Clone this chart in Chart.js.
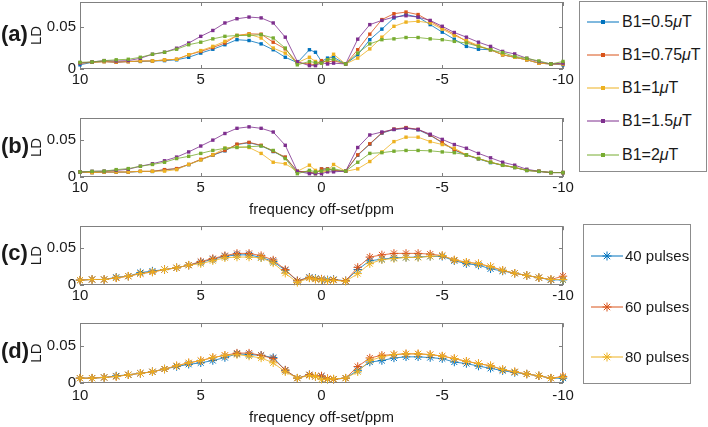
<!DOCTYPE html>
<html>
<head>
<meta charset="utf-8">
<script src="https://cdn.jsdelivr.net/npm/chart.js@4.4.1/dist/chart.umd.min.js"></script>
<style>
  body { margin: 0; width: 708px; height: 427px; position: relative; overflow: hidden; background: #fff;
         font-family: 'Liberation Sans', Arial, sans-serif; color: #1a1a1a; }
  canvas { position: absolute; left: 0; }
  .tag { position: absolute; left: 1px; font-size: 22px; font-weight: bold; line-height: 22px; }
  .legend { position: absolute; background: #fff; border: 1px solid #8c8c8c; box-sizing: border-box; }
  .row { position: absolute; left: 0; height: 18px; line-height: 18px; white-space: nowrap; }
  .row svg { position: absolute; top: 4px; }
  .row span { position: absolute; top: 0; }
</style>
</head>
<body>
<script>
// frequency offsets (ppm)
const freq = [10, 9.5, 9, 8.5, 8, 7.5, 7, 6.5, 6, 5.5, 5, 4.5, 4, 3.5, 3, 2.5, 2, 1.5, 1,
              0.5, 0.25, 0, -0.25, -0.5,
              -1, -1.5, -2, -2.5, -3, -3.5, -4, -4.5, -5, -5.5, -6, -6.5, -7, -7.5, -8, -8.5, -9, -9.5, -10];
const xTicks = [10, 5, 0, -5, -10];
const yTicks = [0, 0.05];
const b1Names = ['B1=0.5μT', 'B1=0.75μT', 'B1=1μT', 'B1=1.5μT', 'B1=2μT'];
const pulseNames = ['40 pulses', '60 pulses', '80 pulses'];
const colors = ['#0072BD', '#D95319', '#EDB120', '#7E2F8E', '#77AC30'];

// panel (a)
const a05  = [0.005, 0.008, 0.009, 0.008, 0.009, 0.009, 0.0095, 0.010, 0.011, 0.014, 0.019, 0.0236, 0.029, 0.035, 0.034, 0.030, 0.023, 0.014, 0.0076,
              0.023, 0.020, 0.009, 0.013, 0.014,
              0.006, 0.017, 0.035, 0.0476, 0.061, 0.065, 0.062, 0.053, 0.044, 0.0356, 0.027, 0.0236, 0.023, 0.017, 0.014, 0.011, 0.007, 0.006, 0.005];
const a075 = [0.007, 0.008, 0.0088, 0.008, 0.0088, 0.0096, 0.0096, 0.0108, 0.0116, 0.017, 0.021, 0.0256, 0.031, 0.040, 0.042, 0.0416, 0.032, 0.024, 0.0076,
              0.006, 0.005, 0.010, 0.008, 0.010,
              0.006, 0.023, 0.0416, 0.059, 0.066, 0.068, 0.065, 0.057, 0.049, 0.0416, 0.033, 0.027, 0.023, 0.017, 0.014, 0.011, 0.007, 0.006, 0.006];
const a1   = [0.007, 0.008, 0.0088, 0.0085, 0.0088, 0.0096, 0.0096, 0.0108, 0.0116, 0.017, 0.022, 0.027, 0.033, 0.040, 0.0416, 0.037, 0.025, 0.019, 0.0076,
              0.014, 0.009, 0.007, 0.011, 0.0176,
              0.006, 0.013, 0.024, 0.038, 0.051, 0.056, 0.057, 0.055, 0.0476, 0.040, 0.034, 0.028, 0.023, 0.017, 0.014, 0.011, 0.007, 0.006, 0.006];
const a15  = [0.007, 0.0084, 0.010, 0.0095, 0.010, 0.0128, 0.0176, 0.020, 0.0248, 0.031, 0.039, 0.046, 0.055, 0.060, 0.062, 0.061, 0.055, 0.038, 0.0088,
              0.004, 0.004, 0.0076, 0.006, 0.007,
              0.006, 0.0356, 0.053, 0.058, 0.062, 0.0636, 0.062, 0.058, 0.051, 0.0436, 0.038, 0.032, 0.027, 0.021, 0.018, 0.0128, 0.0088, 0.006, 0.007];
const a2   = [0.008, 0.0084, 0.010, 0.011, 0.0116, 0.014, 0.0176, 0.020, 0.0236, 0.029, 0.032, 0.036, 0.039, 0.040, 0.040, 0.041, 0.037, 0.025, 0.005,
              0.009, 0.0076, 0.007, 0.011, 0.0116,
              0.006, 0.019, 0.030, 0.035, 0.036, 0.0376, 0.0376, 0.036, 0.035, 0.033, 0.031, 0.027, 0.023, 0.0196, 0.015, 0.0128, 0.0096, 0.006, 0.009];

// panel (b)
const b05  = [0.0066, 0.006, 0.0066, 0.0066, 0.0066, 0.0075, 0.0075, 0.0098, 0.0112, 0.0168, 0.0235, 0.0295, 0.0355, 0.044, 0.0465, 0.0425, 0.0345, 0.0265, 0.0075,
              0.0068, 0.0045, 0.0108, 0.0108, 0.0088,
              0.0078, 0.0295, 0.0445, 0.0595, 0.0645, 0.0665, 0.064, 0.0565, 0.0465, 0.0365, 0.0295, 0.0245, 0.0195, 0.0158, 0.0128, 0.0088, 0.0075, 0.006, 0.006];
const b075 = [0.0068, 0.006, 0.0068, 0.0068, 0.0068, 0.0077, 0.0077, 0.010, 0.0114, 0.017, 0.024, 0.030, 0.036, 0.0445, 0.047, 0.043, 0.035, 0.027, 0.0077,
              0.007, 0.0045, 0.011, 0.011, 0.009,
              0.008, 0.030, 0.045, 0.060, 0.065, 0.067, 0.0645, 0.057, 0.047, 0.037, 0.030, 0.025, 0.020, 0.016, 0.013, 0.009, 0.0077, 0.006, 0.006];
const b1   = [0.0068, 0.006, 0.0068, 0.0068, 0.0068, 0.0077, 0.0077, 0.008, 0.010, 0.017, 0.023, 0.030, 0.039, 0.041, 0.040, 0.032, 0.020, 0.018, 0.0077,
              0.016, 0.009, 0.0068, 0.008, 0.017,
              0.0077, 0.011, 0.021, 0.034, 0.048, 0.054, 0.054, 0.048, 0.044, 0.039, 0.030, 0.025, 0.020, 0.016, 0.013, 0.009, 0.0077, 0.006, 0.006];
const b15  = [0.0068, 0.0077, 0.008, 0.009, 0.0105, 0.0146, 0.018, 0.022, 0.027, 0.034, 0.042, 0.050, 0.059, 0.066, 0.068, 0.066, 0.061, 0.043, 0.0077,
              0.0045, 0.005, 0.0045, 0.007, 0.007,
              0.008, 0.040, 0.057, 0.061, 0.0645, 0.066, 0.0645, 0.058, 0.051, 0.044, 0.039, 0.032, 0.026, 0.020, 0.016, 0.0105, 0.0077, 0.006, 0.006];
const b2   = [0.0068, 0.0077, 0.008, 0.010, 0.0114, 0.0146, 0.017, 0.020, 0.025, 0.028, 0.032, 0.036, 0.039, 0.040, 0.041, 0.042, 0.036, 0.025, 0.0045,
              0.009, 0.007, 0.008, 0.010, 0.011,
              0.008, 0.020, 0.032, 0.033, 0.035, 0.036, 0.036, 0.0355, 0.034, 0.033, 0.030, 0.025, 0.020, 0.016, 0.013, 0.009, 0.0077, 0.006, 0.006];

// panel (c)
const c40 = [0.0066, 0.0075, 0.0075, 0.0105, 0.012, 0.0168, 0.019, 0.021, 0.0234, 0.027, 0.031, 0.035, 0.039, 0.041, 0.041, 0.0375, 0.032, 0.020, 0.0057,
             0.0106, 0.009, 0.008, 0.007, 0.0075,
             0.0057, 0.021, 0.033, 0.035, 0.037, 0.0375, 0.038, 0.039, 0.039, 0.033, 0.029, 0.027, 0.022, 0.019, 0.016, 0.013, 0.010, 0.007, 0.007];
const c60 = [0.0066, 0.0075, 0.0075, 0.0097, 0.012, 0.0155, 0.0177, 0.021, 0.0234, 0.027, 0.032, 0.036, 0.040, 0.043, 0.043, 0.040, 0.034, 0.021, 0.0057,
             0.010, 0.008, 0.008, 0.006, 0.007,
             0.0057, 0.024, 0.038, 0.041, 0.043, 0.043, 0.043, 0.042, 0.040, 0.034, 0.031, 0.029, 0.025, 0.020, 0.016, 0.013, 0.010, 0.0075, 0.012];
const c80 = [0.0066, 0.0075, 0.0075, 0.0097, 0.012, 0.0155, 0.0177, 0.021, 0.0234, 0.027, 0.029, 0.033, 0.037, 0.038, 0.038, 0.037, 0.030, 0.016, 0.0035,
             0.0095, 0.008, 0.007, 0.006, 0.0065,
             0.005, 0.0155, 0.029, 0.0345, 0.036, 0.0375, 0.0375, 0.039, 0.040, 0.034, 0.031, 0.029, 0.025, 0.020, 0.016, 0.013, 0.010, 0.0075, 0.0075];

// panel (d)
const d40 = [0.0065, 0.0065, 0.0074, 0.0095, 0.011, 0.013, 0.015, 0.0187, 0.022, 0.025, 0.027, 0.030, 0.034, 0.039, 0.038, 0.037, 0.034, 0.017, 0.0065,
             0.011, 0.0087, 0.009, 0.005, 0.005,
             0.0065, 0.017, 0.028, 0.030, 0.0335, 0.035, 0.035, 0.034, 0.0326, 0.028, 0.026, 0.0226, 0.0196, 0.0165, 0.014, 0.012, 0.0096, 0.0065, 0.0065];
const d60 = [0.0065, 0.0065, 0.0074, 0.0087, 0.011, 0.013, 0.015, 0.0187, 0.023, 0.027, 0.030, 0.034, 0.037, 0.040, 0.040, 0.037, 0.0326, 0.0174, 0.0065,
             0.011, 0.009, 0.0095, 0.006, 0.005,
             0.0065, 0.022, 0.0335, 0.037, 0.038, 0.039, 0.039, 0.038, 0.036, 0.0326, 0.029, 0.026, 0.023, 0.018, 0.015, 0.012, 0.0096, 0.0065, 0.0087];
const d80 = [0.0065, 0.0065, 0.0074, 0.0087, 0.011, 0.013, 0.015, 0.0187, 0.023, 0.027, 0.030, 0.034, 0.037, 0.038, 0.036, 0.0335, 0.027, 0.015, 0.0065,
             0.010, 0.0087, 0.005, 0.005, 0.0055,
             0.0065, 0.015, 0.030, 0.035, 0.038, 0.039, 0.039, 0.038, 0.036, 0.0326, 0.029, 0.026, 0.023, 0.018, 0.015, 0.012, 0.0096, 0.0065, 0.008];

const font = { family: "'Liberation Sans', Arial, sans-serif", size: 15 };
const textColor = '#1a1a1a';

// MATLAB-like box with inward ticks
const boxPlugin = {
  id: 'box',
  beforeDatasetsDraw(chart) {
    const { ctx, chartArea: a, scales: { x, y } } = chart;
    ctx.save();
    ctx.strokeStyle = '#808080';
    ctx.lineWidth = 1;
    ctx.strokeRect(Math.round(a.left) + 0.5, Math.round(a.top) + 0.5, Math.round(a.width) - 1, Math.round(a.height) - 1);
    ctx.beginPath();
    x.ticks.forEach(t => {
      const px = Math.round(x.getPixelForValue(t.value)) + 0.5;
      ctx.moveTo(px, a.top); ctx.lineTo(px, a.top + 4);
      ctx.moveTo(px, a.bottom); ctx.lineTo(px, a.bottom - 4);
    });
    y.ticks.forEach(t => {
      const py = Math.round(y.getPixelForValue(t.value)) + 0.5;
      ctx.moveTo(a.left, py); ctx.lineTo(a.left + 4, py);
      ctx.moveTo(a.right, py); ctx.lineTo(a.right - 4, py);
    });
    ctx.stroke();
    ctx.restore();
  }
};

const panels = [
  { tag: '(a)', top: 2,   bottom: 69,  xh: 22, tickPad: 2, xlabel: false, tpad: 0, series: [a05, a075, a1, a15, a2], names: b1Names, marker: 'rect' },
  { tag: '(b)', top: 118, bottom: 177, xh: 45, tickPad: 2, xlabel: true,  tpad: 3, series: [b05, b075, b1, b15, b2], names: b1Names, marker: 'rect' },
  { tag: '(c)', top: 225, bottom: 285, xh: 22, tickPad: 2, xlabel: false, tpad: 0, series: [c40, c60, c80], names: pulseNames, marker: 'star' },
  { tag: '(d)', top: 322, bottom: 383, xh: 44, tickPad: 4, xlabel: true,  tpad: 0, series: [d40, d60, d80], names: pulseNames, marker: 'star' }
];

function makePanel(p) {
  const cv = document.createElement('canvas');
  cv.width = 590;
  cv.height = 4 + (p.bottom - p.top) + p.xh;
  cv.style.top = (p.top - 4) + 'px';
  document.body.appendChild(cv);

  const star = p.marker === 'star';
  new Chart(cv, {
    type: 'line',
    data: {
      datasets: p.series.map((s, i) => ({
        label: p.names[i],
        data: freq.map((f, k) => ({ x: f, y: s[k] })),
        borderColor: colors[i],
        backgroundColor: colors[i],
        borderWidth: 0.8,
        pointStyle: p.marker,
        pointRadius: star ? 4.2 : 2.4,
        pointBorderWidth: star ? 1 : 0,
        pointBorderColor: colors[i],
        pointBackgroundColor: colors[i],
        tension: 0,
        clip: false,
        order: p.series.length - i
      }))
    },
    options: {
      responsive: false,
      animation: false,
      events: [],
      layout: { padding: { top: 4, right: 27, left: 0, bottom: 0 } },
      plugins: { legend: { display: false }, tooltip: { enabled: false } },
      scales: {
        x: {
          type: 'linear', min: -10, max: 10, reverse: true,
          afterBuildTicks: s => { s.ticks = xTicks.map(v => ({ value: v })); },
          afterFit: s => { s.height = p.xh; s.paddingLeft = 0; s.paddingRight = 0; },
          grid: { display: false, drawTicks: false }, border: { display: false },
          ticks: { padding: p.tickPad, font, color: textColor, maxRotation: 0, autoSkip: false, callback: v => String(v) },
          title: { display: p.xlabel, text: 'frequency off-set/ppm', font, color: textColor, padding: { top: 0, bottom: p.tpad } }
        },
        y: {
          type: 'linear', min: 0, max: 0.08,
          afterBuildTicks: s => { s.ticks = yTicks.map(v => ({ value: v })); },
          afterFit: s => { s.width = 80; s.paddingTop = 0; s.paddingBottom = 0; },
          grid: { display: false, drawTicks: false }, border: { display: false },
          ticks: { padding: 4, font, color: textColor, callback: v => String(v) },
          title: { display: true, text: 'LD', font, color: textColor, padding: { top: 28, bottom: 0 } }
        }
      }
    },
    plugins: [boxPlugin]
  });

  const tag = document.createElement('div');
  tag.className = 'tag';
  tag.textContent = p.tag;
  tag.style.top = Math.round((p.top + p.bottom) / 2 - 13) + 'px';
  document.body.appendChild(tag);
}

panels.forEach(makePanel);

function icon(color, marker) {
  const m = marker === 'star'
    ? `<path d="M11.5 5H20.5M16 0.5V9.5M12.8 1.8L19.2 8.2M12.8 8.2L19.2 1.8" stroke="${color}" stroke-width="1" fill="none"/>`
    : `<rect x="14" y="3" width="4" height="4" fill="${color}"/>`;
  return `<svg width="32" height="10"><line x1="0" y1="5" x2="32" y2="5" stroke="${color}" stroke-width="1"/>${m}</svg>`;
}

function makeLegend(box, names, marker, rowCenters, textLeft, size) {
  const el = document.createElement('div');
  el.className = 'legend';
  Object.assign(el.style, { left: box[0] + 'px', top: box[1] + 'px', width: box[2] + 'px', height: box[3] + 'px' });
  names.forEach((n, i) => {
    const row = document.createElement('div');
    row.className = 'row';
    row.style.top = (rowCenters[i] - 9) + 'px';
    row.style.fontSize = size + 'px';
    row.innerHTML = `<div style="position:absolute;left:7px">${icon(colors[i], marker)}</div>` +
      `<span style="left:${textLeft}px">${n.replace('μ', '<i>μ</i>')}</span>`;
    el.appendChild(row);
  });
  document.body.appendChild(el);
}

makeLegend([579, 1, 128, 171], b1Names, 'rect', [20, 53, 86, 119, 153], 42, 16);
makeLegend([583, 224, 108, 160], pulseNames, 'star', [31, 82, 132], 41, 15);
</script>
</body>
</html>
